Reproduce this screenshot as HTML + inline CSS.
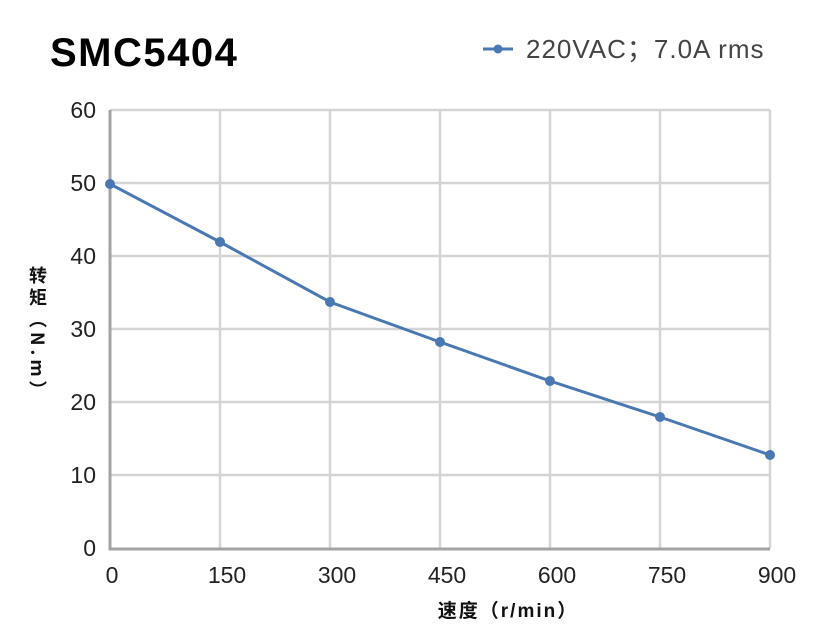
<!DOCTYPE html>
<html><head><meta charset="utf-8"><style>
body{margin:0;background:#fff;width:831px;height:640px;overflow:hidden;font-family:"Liberation Sans","Noto Sans CJK SC",sans-serif}
.yl{position:absolute;left:26px;top:266px;writing-mode:vertical-rl;font-family:"Noto Sans CJK SC",sans-serif;font-weight:bold;font-size:18px;color:#111;line-height:24px;letter-spacing:4px}
</style></head><body>
<svg width="831" height="640" style="position:absolute;left:0;top:0" font-family="Liberation Sans, Noto Sans CJK SC, sans-serif">
<text x="50" y="66" font-size="40" font-weight="bold" fill="#000" letter-spacing="1.5">SMC5404</text>
<line x1="483" y1="49" x2="513" y2="49" stroke="#4a78b2" stroke-width="3"/>
<circle cx="498" cy="49" r="4.5" fill="#4a78b2"/>
<text x="526" y="58" font-size="26" fill="#444" letter-spacing="1">220VAC；7.0A rms</text>
<g stroke="#d4d4d4" stroke-width="2.5">
<line x1="110" y1="110" x2="770" y2="110"/><line x1="110" y1="183" x2="770" y2="183"/>
<line x1="110" y1="256" x2="770" y2="256"/><line x1="110" y1="329" x2="770" y2="329"/>
<line x1="110" y1="402" x2="770" y2="402"/><line x1="110" y1="475" x2="770" y2="475"/>
<line x1="220" y1="110" x2="220" y2="548"/><line x1="330" y1="110" x2="330" y2="548"/>
<line x1="440" y1="110" x2="440" y2="548"/><line x1="550" y1="110" x2="550" y2="548"/>
<line x1="660" y1="110" x2="660" y2="548"/><line x1="770" y1="110" x2="770" y2="548"/>
</g>
<polyline points="110,110 110,549 770,549" fill="none" stroke="#a3a3a5" stroke-width="3"/>
<g font-size="23" fill="#222" text-anchor="end">
<text x="96" y="118">60</text><text x="96" y="191">50</text><text x="96" y="264">40</text>
<text x="96" y="337">30</text><text x="96" y="410">20</text><text x="96" y="483">10</text><text x="96" y="556">0</text>
</g>
<g font-size="23" fill="#222" text-anchor="middle">
<text x="112" y="583">0</text><text x="227" y="583">150</text><text x="337" y="583">300</text>
<text x="447" y="583">450</text><text x="557" y="583">600</text><text x="667" y="583">750</text><text x="777" y="583">900</text>
</g>
<text x="508" y="617" font-size="19" font-weight="bold" fill="#111" text-anchor="middle" letter-spacing="2">速度（r/min）</text>
<polyline points="110,184 220,242 330,302 440,342 550,381 660,417 770,455" fill="none" stroke="#4a78b2" stroke-width="3"/>
<g fill="#4a78b2">
<circle cx="110" cy="184" r="5"/><circle cx="220" cy="242" r="5"/><circle cx="330" cy="302" r="5"/>
<circle cx="440" cy="342" r="5"/><circle cx="550" cy="381" r="5"/><circle cx="660" cy="417" r="5"/><circle cx="770" cy="455" r="5"/>
</g>
</svg>
<div class="yl">转矩（N.m）</div>
</body></html>
